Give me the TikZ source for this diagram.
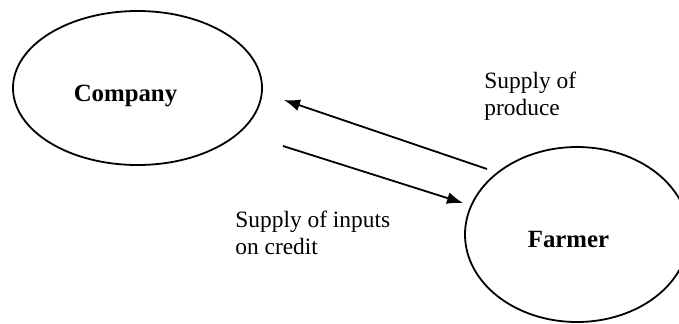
\documentclass[tikz,border=0pt]{standalone}
\usepackage{fontspec}
\setmainfont{Liberation Serif}
\usetikzlibrary{shapes.geometric,arrows.meta}
\begin{document}
\begin{tikzpicture}[x=0.5pt,y=-0.5pt,
  party/.style={draw,ellipse,line width=0.9pt,inner sep=0pt},
  partyname/.style={font=\fontsize{12.4}{14}\selectfont\bfseries,inner sep=0pt,anchor=base},
  flowtext/.style={font=\fontsize{11.7}{13.5}\selectfont,align=left,inner sep=0pt,anchor=base west},
  flow/.style={line width=0.9pt,-{Latex[length=8pt,width=6pt]}}]
  \useasboundingbox (0,0) rectangle (679,323);
  % the two parties
  \node[party,minimum width=124.5pt,minimum height=77pt] (company) at (137.5,88) {};
  \node[party,minimum width=112pt,minimum height=87.5pt] (farmer) at (577,234.5) {};
  \node[partyname] (companyname) at (125.5,101) {Company};
  \node[partyname] (farmername) at (568.5,247) {Farmer};
  % arrow end points
  \coordinate (produceStart) at (487,169);
  \coordinate (produceEnd) at (284,100);
  \coordinate (inputStart) at (283,146);
  \coordinate (inputEnd) at (463,203);
  \draw[flow] (produceStart) -- (produceEnd);
  \draw[flow] (inputStart) -- (inputEnd);
  % flow labels (anchored at the baseline of their last line)
  \node[flowtext] (producelabel) at (484,115) {Supply of\\produce};
  \node[flowtext] (inputlabel) at (235,254) {Supply of inputs\\on credit};
\end{tikzpicture}
\end{document}
